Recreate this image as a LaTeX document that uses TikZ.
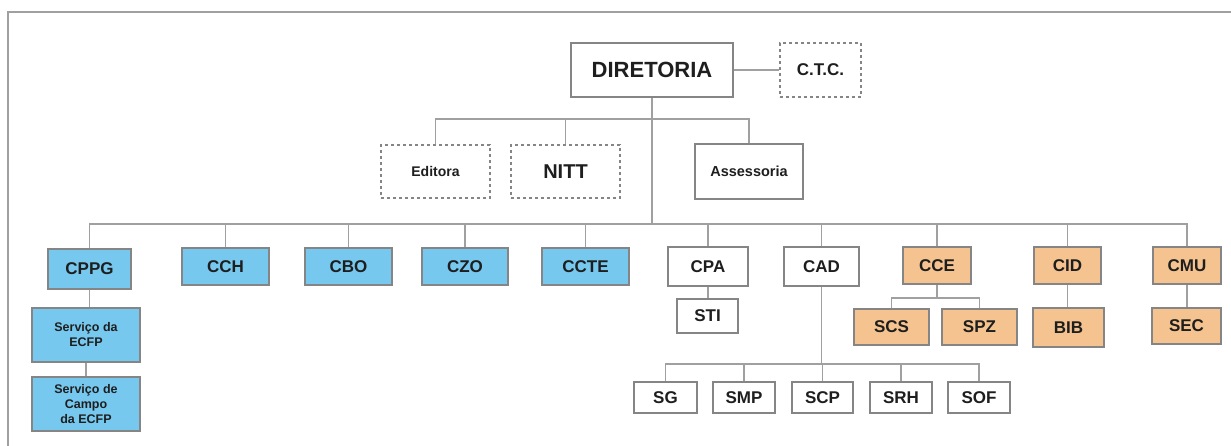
\documentclass[tikz,border=0pt]{standalone}
\usepackage{fontspec}
\setmainfont{Liberation Sans}
\definecolor{boxgray}{HTML}{858585}
\definecolor{linegray}{HTML}{A0A0A0}
\definecolor{bluefill}{HTML}{76C8EF}
\definecolor{orangefill}{HTML}{F5C38F}
\definecolor{txt}{HTML}{1E1E1E}
\tikzset{
  unitbox/.style={draw=boxgray, line width=1.1pt, inner sep=0pt, align=center, text=txt,
    font=\bfseries\fontsize{17}{19}\selectfont},
  whitebox/.style={unitbox, fill=white},
  bluebox/.style={unitbox, fill=bluefill},
  orangebox/.style={unitbox, fill=orangefill},
  dashbox/.style={unitbox, fill=white, dash pattern=on 3pt off 3pt},
  conn/.style={draw=linegray, line width=1.1pt},
  sz/.style 2 args={minimum width=#1pt, minimum height=#2pt},
}
\begin{document}
\begin{tikzpicture}[x=1pt,y=-1pt]
\useasboundingbox (0,0) rectangle (1231,446);
\fill[white] (0,0) rectangle (1231,446);
% frame
\coordinate (frTL) at (8,12);
\coordinate (frTR) at (1231,12);
\coordinate (frBL) at (8,446);
\draw[draw=linegray, line width=1.3pt] (frTR) -- (frTL) -- (frBL);

% top
\node[whitebox, sz={162}{54}, font=\bfseries\fontsize{22}{24}\selectfont] (dir) at (652,70) {DIRETORIA};
\node[dashbox, sz={81}{54}, font=\bfseries\fontsize{17}{19}\selectfont] (ctc) at (820.5,70) {C.T.C.};
\node[dashbox, sz={109}{53}, font=\bfseries\fontsize{14}{16}\selectfont] (edit) at (435.5,171.5) {Editora};
\node[dashbox, sz={109}{53}, font=\bfseries\fontsize{20}{22}\selectfont] (nitt) at (565.5,171.5) {NITT};
\node[whitebox, sz={108}{55}, font=\bfseries\fontsize{14.5}{16}\selectfont] (ass) at (749,171.5) {Assessoria};

% level 2
\node[bluebox, sz={83}{40}] (cppg) at (89.5,269) {CPPG};
\node[bluebox, sz={87}{37}] (cch) at (225.5,266.5) {CCH};
\node[bluebox, sz={87}{37}] (cbo) at (348.5,266.5) {CBO};
\node[bluebox, sz={86}{37}] (czo) at (465,266.5) {CZO};
\node[bluebox, sz={87}{37}] (ccte) at (585.5,266.5) {CCTE};
\node[whitebox, sz={80}{39}] (cpa) at (708,266.5) {CPA};
\node[whitebox, sz={75}{39}] (cad) at (821.5,266.5) {CAD};
\node[orangebox, sz={68}{37}] (cce) at (937,265.5) {CCE};
\node[orangebox, sz={67}{37}] (cid) at (1067.5,265.5) {CID};
\node[orangebox, sz={68}{37}] (cmu) at (1187,265.5) {CMU};

% level 3
\node[bluebox, sz={108}{54}, font=\bfseries\fontsize{12.5}{15}\selectfont] (sv1) at (86,335) {Serviço da\\ECFP};
\node[bluebox, sz={108}{54}, font=\bfseries\fontsize{12.5}{15}\selectfont] (sv2) at (86,404) {Serviço de\\Campo\\da ECFP};
\node[whitebox, sz={61}{34}] (sti) at (707.5,316) {STI};
\node[orangebox, sz={75}{36}] (scs) at (891.5,327) {SCS};
\node[orangebox, sz={75}{36}] (spz) at (979.5,327) {SPZ};
\node[orangebox, sz={71}{39}] (bib) at (1068.5,327.5) {BIB};
\node[orangebox, sz={69}{36}] (sec) at (1186.5,326) {SEC};

% level 4
\node[whitebox, sz={63}{31}] (sg) at (665.5,397.5) {SG};
\node[whitebox, sz={62}{31}] (smp) at (744,397.5) {SMP};
\node[whitebox, sz={61}{31}] (scp) at (822.5,397.5) {SCP};
\node[whitebox, sz={62}{31}] (srh) at (901,397.5) {SRH};
\node[whitebox, sz={62}{31}] (sof) at (979,397.5) {SOF};

% connectors
\draw[conn] (dir.east) -- (ctc.west);
\coordinate (bus1) at (652,119);
\coordinate (bus0) at (652,224);
\draw[conn] (dir.south) -- (bus0);
\draw[conn] (edit.north) |- (bus1);
\draw[conn] (bus1) -| (nitt.north);
\draw[conn] (bus1) -| (ass.north);
\foreach \n in {cppg,cch,cbo,czo,ccte,cpa,cad,cce,cid,cmu}{
  \draw[conn] (bus0) -| (\n.north);
}
\draw[conn] (cppg.south) -- (cppg.south |- sv1.north);
\draw[conn] (sv1.south) -- (sv2.north);
\draw[conn] (cpa.south) -- (cpa.south |- sti.north);
\draw[conn] (cid.south) -- (cid.south |- bib.north);
\draw[conn] (cmu.south) -- (cmu.south |- sec.north);
\coordinate (bus2) at (937,298);
\draw[conn] (cce.south) -- (bus2);
\draw[conn] (bus2) -| (scs.north);
\draw[conn] (bus2) -| (spz.north);
\coordinate (bus3) at (821.5,364);
\draw[conn] (cad.south) -- (bus3);
\foreach \n in {sg,smp,scp,srh,sof}{
  \draw[conn] (bus3) -| (\n.north);
}
\end{tikzpicture}
\end{document}
